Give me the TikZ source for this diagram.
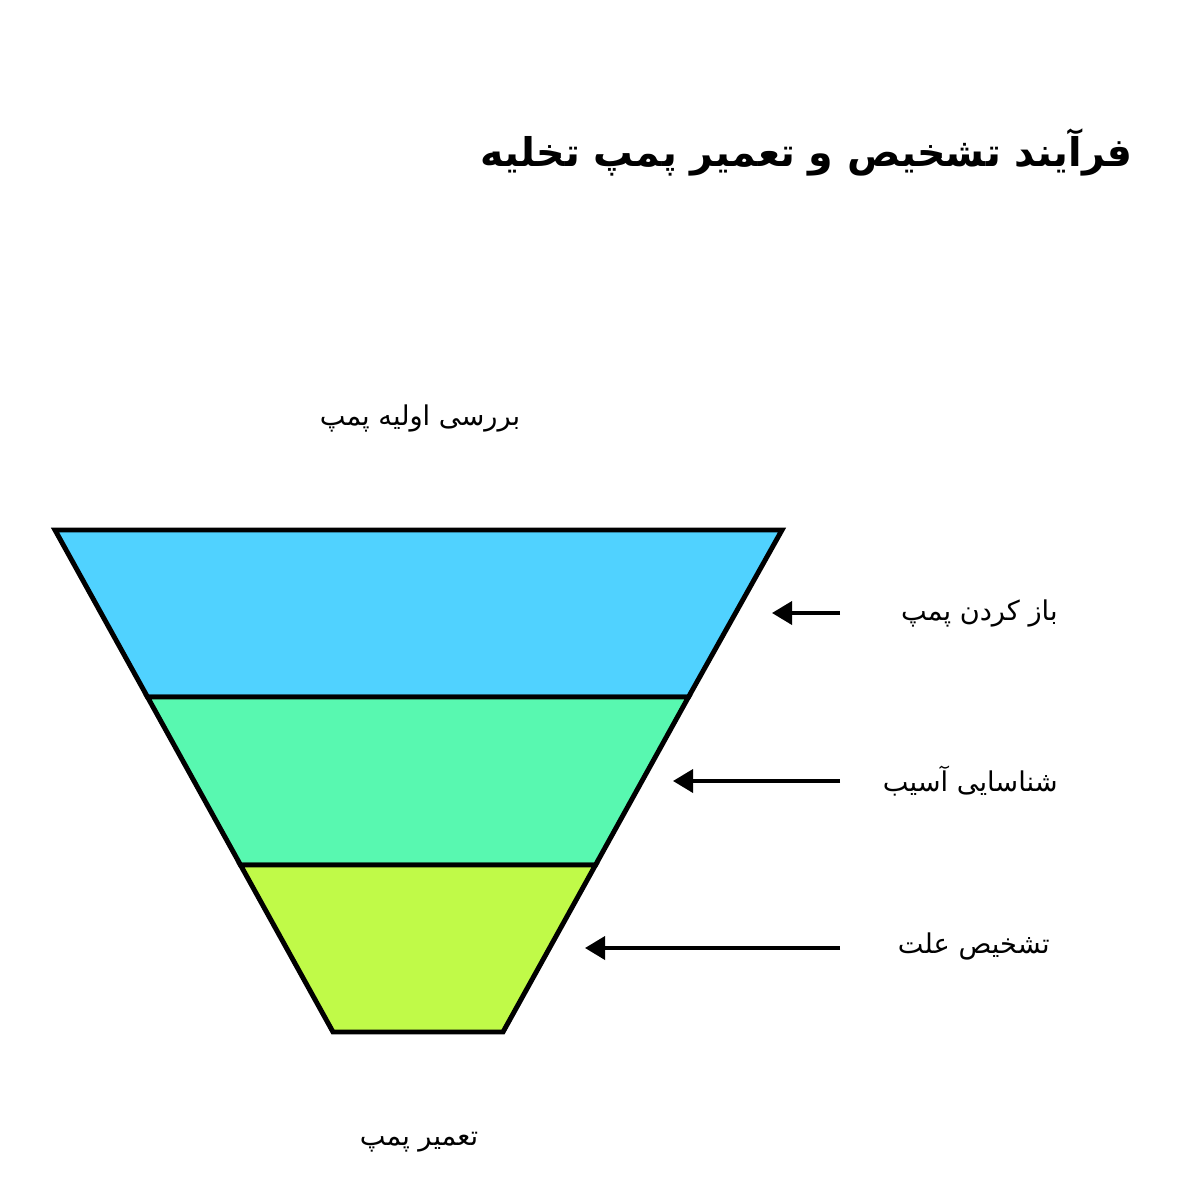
\documentclass[tikz,border=0pt]{standalone}
\usepackage{fontspec}
\usetikzlibrary{arrows.meta}
\TeXXeTstate=1
\newfontfamily\arabicfont[Script=Arabic]{DejaVu Sans}
\definecolor{bandA}{HTML}{50D2FF}
\definecolor{bandB}{HTML}{58F8B0}
\definecolor{bandC}{HTML}{C0FA48}
\tikzset{
  band/.style={draw=black, line width=2.8pt, line join=miter},
  lab/.style={font=\arabicfont\fontsize{15.5}{18}\selectfont, inner sep=0pt},
  ttl/.style={font=\arabicfont\bfseries\fontsize{22.5}{27}\selectfont, inner sep=0pt},
  arr/.style={line width=2.1pt, -{Triangle[length=0.4cm,width=0.46cm]}}
}
\begin{document}
\begin{tikzpicture}[x=0.02cm,y=-0.02cm]
\useasboundingbox (0,0) rectangle (1200,1200);
\fill[white] (0,0) rectangle (1200,1200);
% funnel
\draw[band, fill=bandA] (55,530) -- (782,530) -- (688.5,697) -- (147.5,697) -- cycle;
\draw[band, fill=bandB] (147.5,697) -- (688.5,697) -- (595.5,865) -- (240.5,865) -- cycle;
\draw[band, fill=bandC] (240.5,865) -- (595.5,865) -- (503,1032) -- (333,1032) -- cycle;
% texts
\node[ttl, anchor=east] (title) at (1133,152) {\beginR فرآیند تشخیص و تعمیر پمپ تخلیه\endR};
\node[lab] (top) at (420,418) {\beginR بررسی اولیه پمپ\endR};
\node[lab, anchor=east] (l1) at (1058,613) {\beginR باز کردن پمپ\endR};
\node[lab, anchor=east] (l2) at (1058,781) {\beginR شناسایی آسیب\endR};
\node[lab, anchor=east] (l3) at (1050,946) {\beginR تشخیص علت\endR};
\node[lab] (bot) at (419,1142) {\beginR تعمیر پمپ\endR};
% arrows
\coordinate (a1s) at (840,613); \coordinate (a1e) at (772,613);
\coordinate (a2s) at (840,781); \coordinate (a2e) at (673,781);
\coordinate (a3s) at (840,948); \coordinate (a3e) at (585,948);
\draw[arr] (a1s) -- (a1e);
\draw[arr] (a2s) -- (a2e);
\draw[arr] (a3s) -- (a3e);
\end{tikzpicture}
\end{document}
